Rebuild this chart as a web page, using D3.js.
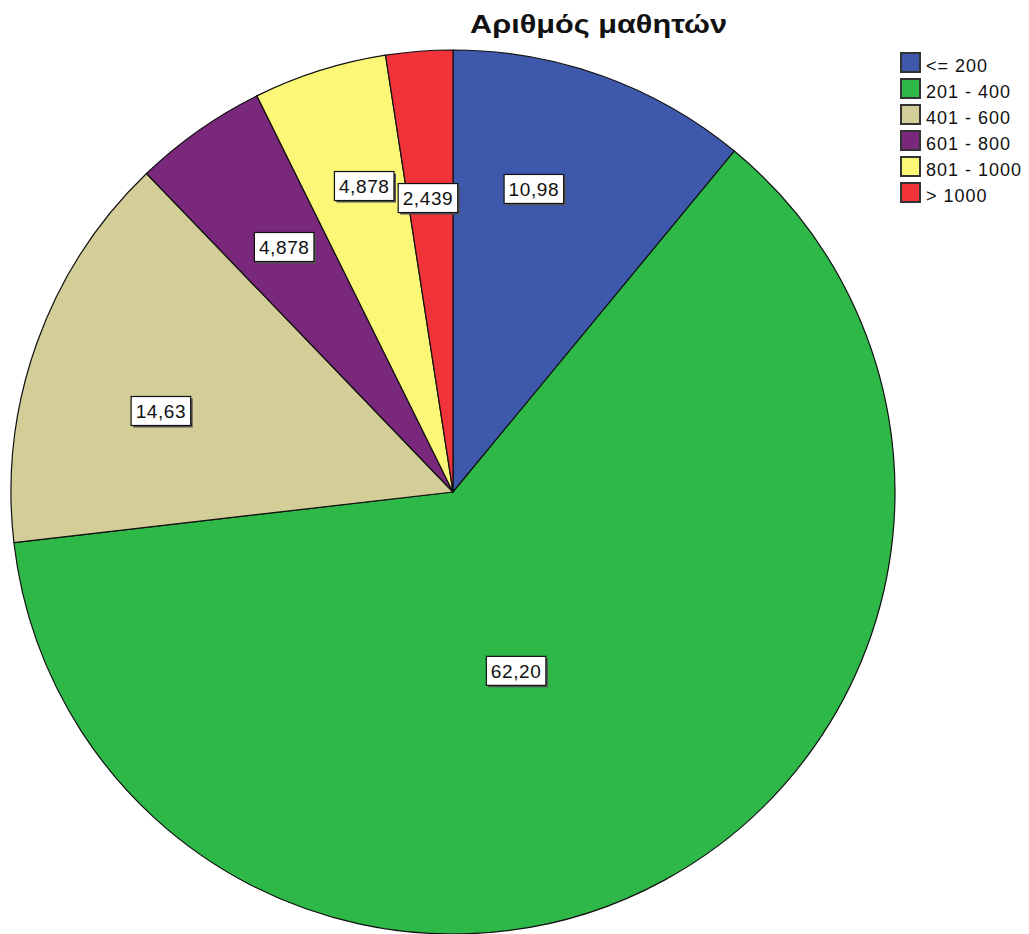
<!DOCTYPE html>
<html><head><meta charset="utf-8">
<script src="https://cdn.jsdelivr.net/npm/d3@7"></script>
<style>body{margin:0;background:#fff}svg{display:block}</style>
</head><body>
<svg id="c" width="1029" height="934"></svg>
<script>
const title = "Αριθμός μαθητών";
const categories = ["<= 200", "201 - 400", "401 - 600", "601 - 800", "801 - 1000", "> 1000"];
const values = [10.98, 62.20, 14.63, 4.878, 4.878, 2.439];
const labels = ["10,98", "62,20", "14,63", "4,878", "4,878", "2,439"];
const colors = ["#3E58AC", "#2EB848", "#D3CD97", "#7A287C", "#FBF878", "#EF3339"];

const svg = d3.select("#c");
const cx = 453, cy = 492, R = 442;
const FONT = "Liberation Sans, Arial, sans-serif";

const tt = svg.append("text").attr("x", 598.5).attr("y", 33).attr("text-anchor", "middle")
  .attr("font-family", FONT).attr("font-weight", "bold")
  .attr("font-size", 25).attr("fill", "#111").text(title);
tt.attr("textLength", 257).attr("lengthAdjust", "spacingAndGlyphs");

const pie = d3.pie().sort(null).value(d => d)(values);
const arc = d3.arc().innerRadius(0).outerRadius(R);
const g = svg.append("g").attr("transform", `translate(${cx},${cy})`);
g.selectAll("path").data(pie).join("path")
  .attr("d", arc).attr("fill", (d, i) => colors[i])
  .attr("stroke", "#111").attr("stroke-width", 1.2).attr("stroke-linejoin", "round");

// label placement (radius fraction, angle shift in degrees)
const place = [[0.708, -4.6], [0.432, 8.9], [0.683, -4.4], [0.67, 0.6], [0.718, 1.5], [0.665, -0.3]];
const lg = g.selectAll("g.lab").data(pie).join("g").attr("class", "lab")
  .attr("transform", (d, i) => {
    const a = (d.startAngle + d.endAngle) / 2 + place[i][1] * Math.PI / 180;
    const r = R * place[i][0];
    return `translate(${r * Math.sin(a) - 1},${-r * Math.cos(a) - 1})`;
  });
lg.each(function(d, i) {
  const s = d3.select(this);
  const t = s.append("text").attr("text-anchor", "middle").attr("dy", "0.36em")
    .attr("font-family", FONT).attr("font-size", 19).attr("letter-spacing", 0.6)
    .attr("fill", "#111").text(labels[i]);
  const bb = t.node().getBBox();
  const w = bb.width + 9, h = 29;
  s.insert("rect", "text").attr("x", -w / 2 + 2).attr("y", -h / 2 + 2)
    .attr("width", w).attr("height", h).attr("fill", "#555");
  s.insert("rect", "text").attr("x", -w / 2).attr("y", -h / 2)
    .attr("width", w).attr("height", h)
    .attr("fill", "#fff").attr("stroke", "#111").attr("stroke-width", 1.2);
});

const leg = svg.append("g").attr("transform", "translate(900,52)");
const li = leg.selectAll("g").data(categories).join("g")
  .attr("transform", (d, i) => `translate(0,${i * 26})`);
li.append("rect").attr("width", 19).attr("height", 19).attr("x", 1).attr("y", 1)
  .attr("fill", (d, i) => colors[i]).attr("stroke", "#333").attr("stroke-width", 2);
li.append("text").attr("x", 26).attr("y", 20)
  .attr("font-family", FONT).attr("font-size", 18).attr("letter-spacing", 1)
  .attr("fill", "#111").attr("xml:space", "preserve").text(d => d);
</script>
</body></html>
